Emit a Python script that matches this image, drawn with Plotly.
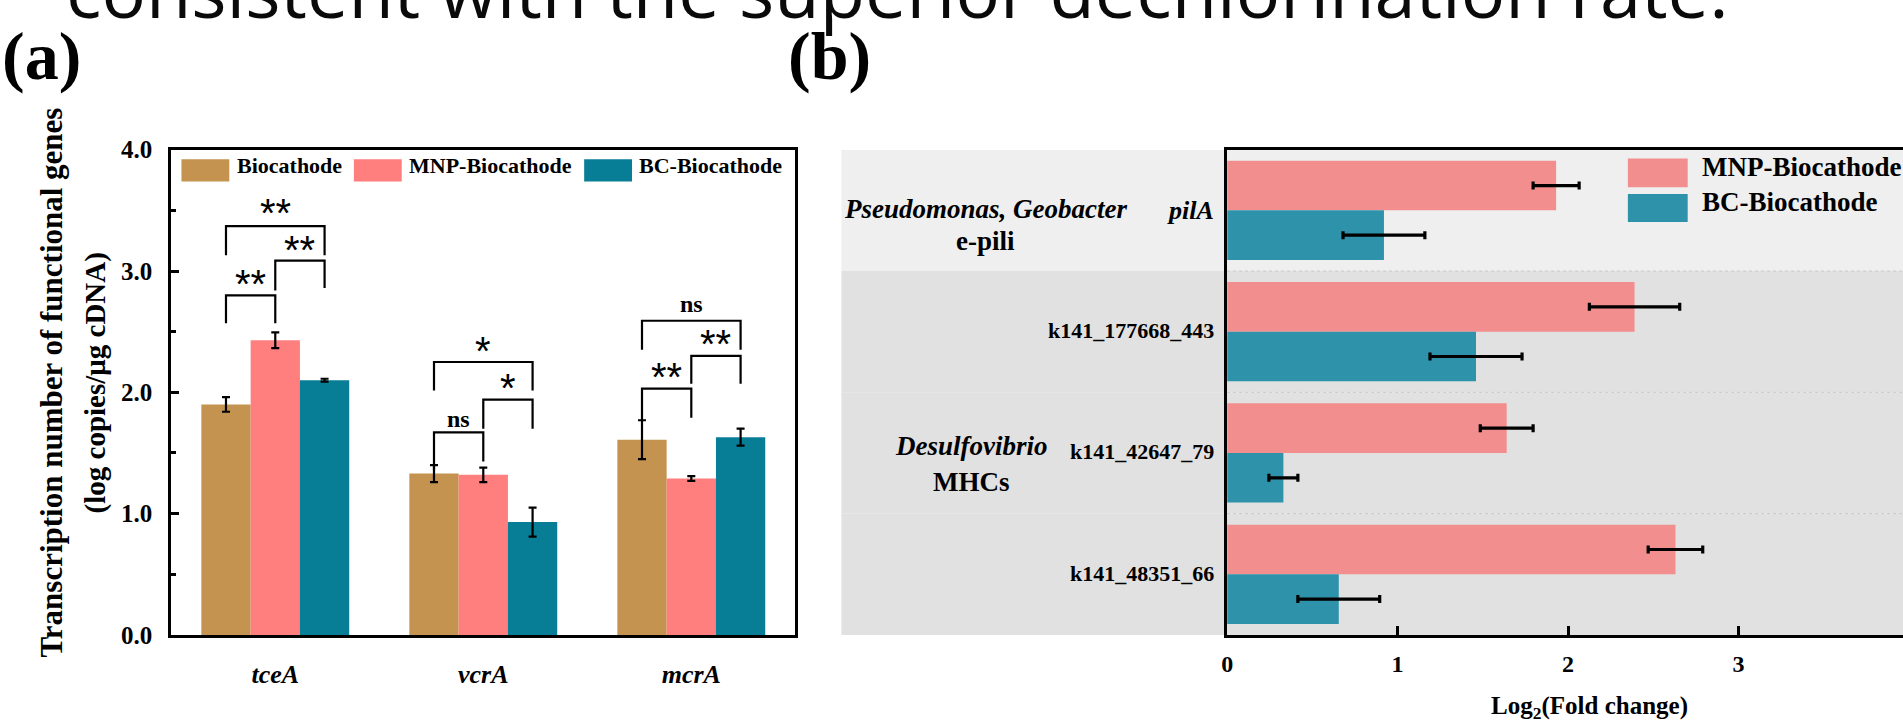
import plotly.graph_objects as go

W, H = 1903, 725

# ---------------- data : panel (a) ----------------
genes_a = ["tceA", "vcrA", "mcrA"]
series_a = ["Biocathode", "MNP-Biocathode", "BC-Biocathode"]
bio_vals = [1.90, 1.33, 1.61]
bio_err = [0.06, 0.07, 0.16]
mnp_vals = [2.43, 1.32, 1.29]
mnp_err = [0.065, 0.06, 0.02]
bc_vals = [2.10, 0.93, 1.63]
bc_err = [0.012, 0.12, 0.07]
colors_a = ["#C4934F", "#FF7F7F", "#087E96"]

# significance brackets: gene index, bar i, bar j, left leg end, bracket top, right leg end, label, label y
sig_gene = [0, 0, 0, 1, 1, 1, 2, 2, 2]
sig_i = [0, 1, 0, 0, 1, 0, 0, 1, 0]
sig_j = [1, 2, 2, 1, 2, 2, 1, 2, 2]
sig_left = [2.57, 2.84, 3.13, 1.36, 1.70, 2.015, 1.77, 2.07, 2.35]
sig_top = [2.80, 3.085, 3.37, 1.67, 1.94, 2.25, 2.03, 2.30, 2.59]
sig_right = [2.57, 2.86, 3.13, 1.43, 1.70, 2.015, 1.79, 2.07, 2.35]
sig_label = ["**", "**", "**", "ns", "*", "*", "**", "**", "ns"]
sig_label_y = [2.93, 3.21, 3.51, 1.77, 2.07, 2.37, 2.16, 2.43, 2.72]

# ---------------- data : panel (b) ----------------
genes_b = ["pilA", "k141_177668_443", "k141_42647_79", "k141_48351_66"]
genes_b_text = ["<i>pilA</i>", "k141_177668_443", "k141_42647_79", "k141_48351_66"]
series_b = ["MNP-Biocathode", "BC-Biocathode"]
mnp_b = [1.93, 2.39, 1.64, 2.63]
mnp_b_err = [0.135, 0.265, 0.155, 0.16]
bc_b = [0.92, 1.46, 0.33, 0.655]
bc_b_err = [0.24, 0.27, 0.085, 0.24]
colors_b = ["#F28E8E", "#2E93AA"]
band_colors = ["#EFEFEF", "#E1E1E1"]

SERIF = "Liberation Serif"


def px_x(p):
    return p / W


def px_y(p):
    return 1 - p / H


fig = go.Figure()

# ---------- panel (a) bars ----------
bw = 0.237
vals_a = [bio_vals, mnp_vals, bc_vals]
errs_a = [bio_err, mnp_err, bc_err]
for k in range(3):
    fig.add_trace(go.Bar(
        x=list(range(len(genes_a))), y=vals_a[k], name=series_a[k],
        width=bw, offset=(k - 1.5) * bw,
        marker=dict(color=colors_a[k], line=dict(width=0)),
        error_y=dict(type="data", array=errs_a[k], color="black", thickness=2.2, width=4),
        xaxis="x", yaxis="y", showlegend=False))

# significance brackets
for n in range(len(sig_gene)):
    xi = sig_gene[n] + (sig_i[n] - 1) * bw
    xj = sig_gene[n] + (sig_j[n] - 1) * bw
    fig.add_trace(go.Scatter(
        x=[xi, xi, xj, xj], y=[sig_left[n], sig_top[n], sig_top[n], sig_right[n]],
        mode="lines", line=dict(color="black", width=2.2), hoverinfo="skip",
        xaxis="x", yaxis="y", showlegend=False))
    lab = sig_label[n]
    if lab == "ns":
        font = dict(family=SERIF, size=24, color="black", weight="bold")
        ys = 1
    else:
        font = dict(family="Liberation Sans", size=40, color="black")
        ys = -4
    fig.add_annotation(x=(xi + xj) / 2, y=sig_label_y[n], xref="x", yref="y",
                       text=lab, showarrow=False, font=font, yshift=ys,
                       xanchor="center", yanchor="middle")

# ---------- panel (b) bars ----------
bh = 0.409
vals_b = [mnp_b, bc_b]
errs_b = [mnp_b_err, bc_b_err]
for k in range(2):
    fig.add_trace(go.Bar(
        y=genes_b, x=vals_b[k], name=series_b[k], orientation="h",
        width=bh, offset=(k - 1) * bh,
        marker=dict(color=colors_b[k], line=dict(width=0)),
        error_x=dict(type="data", array=errs_b[k], color="black", thickness=3.2, width=4),
        xaxis="x2", yaxis="y2", showlegend=False))

# category labels of panel (b)
for idx in range(len(genes_b)):
    fig.add_annotation(x=px_x(1214), y=genes_b[idx], xref="paper", yref="y2",
                       text=genes_b_text[idx], showarrow=False,
                       xanchor="right", yanchor="middle", yshift=(0 if idx == 0 else 1),
                       font=dict(family=SERIF, size=22 if idx else 26, color="black", weight="bold"))

shapes = []
# background bands of panel (b)
for idx in range(len(genes_b)):
    shapes.append(dict(type="rect", xref="paper", yref="y2",
                       x0=px_x(838), x1=1, y0=idx - 0.5, y1=idx + 0.5,
                       fillcolor=band_colors[0 if idx == 0 else 1],
                       line=dict(width=0), layer="below"))
for idx in range(len(genes_b) - 1):
    shapes.append(dict(type="line", xref="x2 domain", yref="y2",
                       x0=0, x1=1, y0=idx + 0.5, y1=idx + 0.5,
                       line=dict(color="#C9C9C9", width=1, dash="dot"), layer="below"))


def ann(x, y, text, size, family=SERIF, angle=0, xanchor="center", weight="bold", color="black"):
    fig.add_annotation(x=px_x(x), y=px_y(y), xref="paper", yref="paper", text=text,
                       showarrow=False, textangle=angle, xanchor=xanchor, yanchor="middle",
                       font=dict(family=family, size=size, color=color, weight=weight))


# custom legends
leg_a_x = [176, 349, 580]
leg_a_tx = [230, 402, 633]
for k in range(3):
    shapes.append(dict(type="rect", xref="paper", yref="paper",
                       x0=px_x(leg_a_x[k]), x1=px_x(leg_a_x[k] + 48),
                       y0=px_y(175), y1=px_y(152), fillcolor=colors_a[k], line=dict(width=0)))
    ann(leg_a_tx[k], 158, series_a[k], 22, xanchor="left")
leg_b_y = [[151, 181], [188, 217]]
for k in range(2):
    shapes.append(dict(type="rect", xref="paper", yref="paper",
                       x0=px_x(1627), x1=px_x(1687),
                       y0=px_y(leg_b_y[k][1]), y1=px_y(leg_b_y[k][0]),
                       fillcolor=colors_b[k], line=dict(width=0)))
    ann(1699, (leg_b_y[k][0] + leg_b_y[k][1]) / 2 - 6, series_b[k], 27, xanchor="left")

fig.update_layout(shapes=shapes)

# ---------- texts ----------
ann(58, -24, "consistent with the superior dechlorination rate.", 74, family="Open Sans",
    xanchor="left", weight="normal", color="#0a0a0a")
ann(-6, 45, "(a)", 68, xanchor="left")
ann(782, 45, "(b)", 68, xanchor="left")
ann(46, 384, "Transcription number of functional genes", 31, angle=-90)
ann(90, 384, "(log copies/μg cDNA)", 29, angle=-90)
ann(983, 204, "<i>Pseudomonas, Geobacter</i>", 27)
ann(983, 237, "e-pili", 27)
ann(969, 450, "<i>Desulfovibrio</i>", 27)
ann(969, 487, "MHCs", 27)
ann(1589, 721, "Log<sub>2</sub>(Fold change)", 25)

# ---------- axes ----------
ydom = [px_y(646), px_y(142)]
fig.update_layout(
    width=W, height=H,
    margin=dict(l=0, r=0, t=0, b=0),
    paper_bgcolor="white", plot_bgcolor="rgba(0,0,0,0)",
    barmode="overlay",
    xaxis=dict(domain=[px_x(165.8), px_x(791.8)], range=[-0.5, 2.5],
               tickvals=list(range(len(genes_a))),
               ticktext=["<i>%s</i>" % g for g in genes_a],
               ticks="", showline=True, linewidth=3, linecolor="black", mirror=True,
               showgrid=False, zeroline=False, ticklabelstandoff=14,
               tickfont=dict(family=SERIF, size=26, color="black", weight="bold"),
               anchor="y"),
    yaxis=dict(domain=ydom, range=[0, 4], dtick=1, tickformat=".1f",
               ticks="inside", ticklen=8, tickwidth=2.5, tickcolor="black",
               minor=dict(dtick=0.5, ticks="inside", ticklen=5, tickwidth=2.5, tickcolor="black"),
               showline=True, linewidth=3, linecolor="black", mirror=True,
               showgrid=False, zeroline=False, ticklabelstandoff=11,
               tickfont=dict(family=SERIF, size=25, color="black", weight="bold"),
               anchor="x"),
    xaxis2=dict(domain=[px_x(1225), 1], range=[0, (1903 - 1225) / 171], dtick=1,
                ticks="inside", ticklen=9, tickwidth=3, tickcolor="black",
                showline=True, linewidth=3, linecolor="black", mirror=True,
                showgrid=False, zeroline=False, ticklabelstandoff=5,
                tickfont=dict(family=SERIF, size=24, color="black", weight="bold"),
                anchor="y2"),
    yaxis2=dict(domain=ydom, categoryorder="array", categoryarray=genes_b,
                autorange="reversed", ticks="", showticklabels=False,
                showline=True, linewidth=3,
                linecolor="black", mirror=False, showgrid=False, zeroline=False,
                anchor="x2"),
)

fig.write_html("out.html")
